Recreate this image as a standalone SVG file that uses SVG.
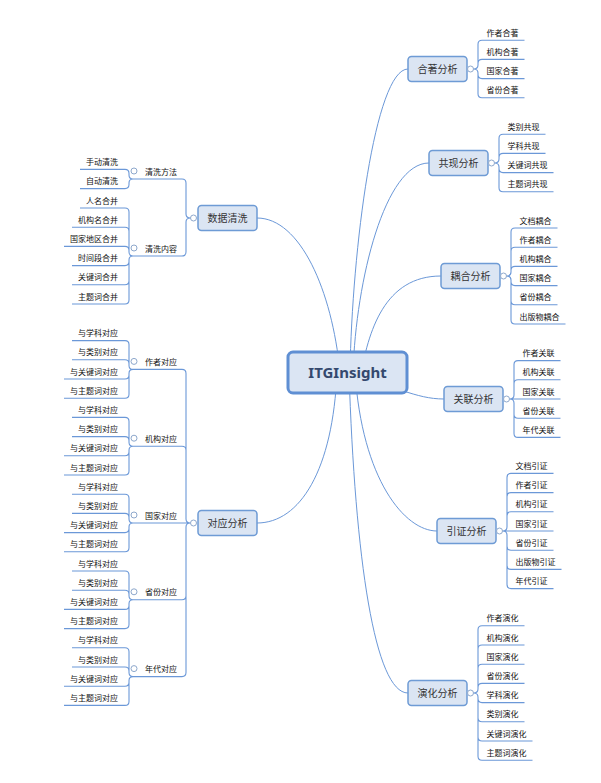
<svg xmlns="http://www.w3.org/2000/svg" width="601" height="783" viewBox="0 0 601 783">
<style>
.bg{fill:#ffffff}
.ln{fill:none;stroke:#6b98d8;stroke-width:1.1}
.cn{fill:none;stroke:#6b98d8;stroke-width:1}
.box{fill:#dbe5f3;stroke:#6e9bd5;stroke-width:1.5}
.root{fill:#dbe5f3;stroke:#5f8fd3;stroke-width:3}
.rt{font-family:"Noto Sans","Noto Sans CJK SC",sans-serif;font-weight:bold;font-size:15px;fill:#34496e;text-anchor:middle}
.mt{font-family:"Noto Sans CJK SC","Noto Sans",sans-serif;font-size:10px;fill:#333333;text-anchor:middle}
.ct{font-family:"Noto Sans CJK SC","Noto Sans",sans-serif;font-size:8px;fill:#111111}
.e{text-anchor:end}
.cc{fill:#ffffff;stroke:#8ea8cc;stroke-width:1}
</style>
<rect class="bg" x="0" y="0" width="601" height="783"/>
<g id="connectors">
<path class="cn" d="M340 372 C332 290 300 218 257 218"/>
<path class="cn" d="M337 372 C333 470 300 523 257 523"/>
<path class="cn" d="M350 372 C352 250 375 69 408 69"/>
<path class="cn" d="M353 372 C356 280 385 163 429 163"/>
<path class="cn" d="M360 380 C368 330 385 276 441 276"/>
<path class="cn" d="M347 375 C395 385 415 399 444 399"/>
<path class="cn" d="M355 372 C362 480 405 531 437 531"/>
<path class="cn" d="M349 372 C355 560 375 693 408 693"/>
<!-- 合著 -->
<path class="ln" d="M473.5 69 Q478 69 478 65 V44.2 Q478 40.2 482 40.2 H524.5 M473.5 69 Q478 69 478 65 V63.4 Q478 59.4 482 59.4 H524.5 M473.5 69 Q478 69 478 73 V74.6 Q478 78.6 482 78.6 H524.5 M473.5 69 Q478 69 478 73 V93.8 Q478 97.8 482 97.8 H524.5"/>
<!-- 共现 -->
<path class="ln" d="M494.5 163 Q499 163 499 159 V138.2 Q499 134.2 503 134.2 H545.5 M494.5 163 Q499 163 499 159 V157.4 Q499 153.4 503 153.4 H545.5 M494.5 163 Q499 163 499 167 V168.6 Q499 172.6 503 172.6 H553.5 M494.5 163 Q499 163 499 167 V187.8 Q499 191.8 503 191.8 H553.5"/>
<!-- 耦合 -->
<path class="ln" d="M506.5 276 Q511 276 511 272 V232 Q511 228 515 228 H557.5 M506.5 276 Q511 276 511 272 V251.2 Q511 247.2 515 247.2 H557.5 M506.5 276 Q511 276 511 272 V270.4 Q511 266.4 515 266.4 H557.5 M506.5 276 Q511 276 511 280 V281.6 Q511 285.6 515 285.6 H557.5 M506.5 276 Q511 276 511 280 V300.8 Q511 304.8 515 304.8 H557.5 M506.5 276 Q511 276 511 280 V320 Q511 324 515 324 H565.5"/>
<!-- 关联 -->
<path class="ln" d="M509.5 399 Q514 399 514 395 V364.6 Q514 360.6 518 360.6 H560.5 M509.5 399 Q514 399 514 395 V383.8 Q514 379.8 518 379.8 H560.5 M509.5 399 H560.5 M509.5 399 Q514 399 514 403 V414.2 Q514 418.2 518 418.2 H560.5 M509.5 399 Q514 399 514 403 V433.4 Q514 437.4 518 437.4 H560.5"/>
<!-- 引证 -->
<path class="ln" d="M502.5 531 Q507 531 507 527 V477.4 Q507 473.4 511 473.4 H553.5 M502.5 531 Q507 531 507 527 V496.6 Q507 492.6 511 492.6 H553.5 M502.5 531 Q507 531 507 527 V515.8 Q507 511.8 511 511.8 H553.5 M502.5 531 H553.5 M502.5 531 Q507 531 507 535 V546.2 Q507 550.2 511 550.2 H553.5 M502.5 531 Q507 531 507 535 V565.4 Q507 569.4 511 569.4 H561.5 M502.5 531 Q507 531 507 535 V584.6 Q507 588.6 511 588.6 H553.5"/>
<!-- 演化 -->
<path class="ln" d="M473.5 693 Q478 693 478 689 V629.8 Q478 625.8 482 625.8 H524.5 M473.5 693 Q478 693 478 689 V649 Q478 645 482 645 H524.5 M473.5 693 Q478 693 478 689 V668.2 Q478 664.2 482 664.2 H524.5 M473.5 693 Q478 693 478 689 V687.4 Q478 683.4 482 683.4 H524.5 M473.5 693 Q478 693 478 697 V698.6 Q478 702.6 482 702.6 H524.5 M473.5 693 Q478 693 478 697 V717.8 Q478 721.8 482 721.8 H524.5 M473.5 693 Q478 693 478 697 V737 Q478 741 482 741 H532.5 M473.5 693 Q478 693 478 697 V756.2 Q478 760.2 482 760.2 H532.5"/>
<!-- 数据清洗 -->
<path class="ln" d="M190.5 218 Q186 218 186 214 V183 Q186 179 182 179 H139 M190.5 218 Q186 218 186 222 V252 Q186 256 182 256 H139"/>
<path class="ln" d="M139 179 H133 Q129 179 129 175 V173.4 Q129 169.4 125 169.4 H80 M139 179 H133 Q129 179 129 183 V184.6 Q129 188.6 125 188.6 H80"/>
<path class="ln" d="M139 256 H133 Q129 256 129 252 V212 Q129 208 125 208 H80 M139 256 H133 Q129 256 129 252 V231.2 Q129 227.2 125 227.2 H72 M139 256 H133 Q129 256 129 252 V250.4 Q129 246.4 125 246.4 H64 M139 256 H133 Q129 256 129 260 V261.6 Q129 265.6 125 265.6 H72 M139 256 H133 Q129 256 129 260 V280.8 Q129 284.8 125 284.8 H72 M139 256 H133 Q129 256 129 260 V300 Q129 304 125 304 H72"/>
<!-- 对应分析 -->
<path class="ln" d="M190.5 523 Q186 523 186 519 V373.4 Q186 369.4 182 369.4 H139 M190.5 523 Q186 523 186 519 V450.2 Q186 446.2 182 446.2 H139 M190.5 523 H139 M190.5 523 Q186 523 186 527 V595.8 Q186 599.8 182 599.8 H139 M190.5 523 Q186 523 186 527 V672.6 Q186 676.6 182 676.6 H139"/>
<path class="ln" d="M139 369.4 H133 Q129 369.4 129 365.4 V344.6 Q129 340.6 125 340.6 H72 M139 369.4 H133 Q129 369.4 129 365.4 V363.8 Q129 359.8 125 359.8 H72 M139 369.4 H133 Q129 369.4 129 373.4 V375 Q129 379 125 379 H64 M139 369.4 H133 Q129 369.4 129 373.4 V394.2 Q129 398.2 125 398.2 H64"/>
<path class="ln" d="M139 446.2 H133 Q129 446.2 129 442.2 V421.4 Q129 417.4 125 417.4 H72 M139 446.2 H133 Q129 446.2 129 442.2 V440.6 Q129 436.6 125 436.6 H72 M139 446.2 H133 Q129 446.2 129 450.2 V451.8 Q129 455.8 125 455.8 H64 M139 446.2 H133 Q129 446.2 129 450.2 V471 Q129 475 125 475 H64"/>
<path class="ln" d="M139 523 H133 Q129 523 129 519 V498.2 Q129 494.2 125 494.2 H72 M139 523 H133 Q129 523 129 519 V517.4 Q129 513.4 125 513.4 H72 M139 523 H133 Q129 523 129 527 V528.6 Q129 532.6 125 532.6 H64 M139 523 H133 Q129 523 129 527 V547.8 Q129 551.8 125 551.8 H64"/>
<path class="ln" d="M139 599.8 H133 Q129 599.8 129 595.8 V575 Q129 571 125 571 H72 M139 599.8 H133 Q129 599.8 129 595.8 V594.2 Q129 590.2 125 590.2 H72 M139 599.8 H133 Q129 599.8 129 603.8 V605.4 Q129 609.4 125 609.4 H64 M139 599.8 H133 Q129 599.8 129 603.8 V624.6 Q129 628.6 125 628.6 H64"/>
<path class="ln" d="M139 676.6 H133 Q129 676.6 129 672.6 V651.8 Q129 647.8 125 647.8 H72 M139 676.6 H133 Q129 676.6 129 672.6 V671 Q129 667 125 667 H72 M139 676.6 H133 Q129 676.6 129 680.6 V682.2 Q129 686.2 125 686.2 H64 M139 676.6 H133 Q129 676.6 129 680.6 V701.4 Q129 705.4 125 705.4 H64"/>
</g>
<g id="root">
<rect class="root" x="288" y="352" width="119" height="41" rx="5"/>
<text class="rt" x="347.5" y="378">ITGInsight</text>
</g>
<g id="hezhu">
<rect class="box" x="408" y="56.5" width="59" height="25" rx="3.5"/>
<text class="mt" x="437.5" y="72.5">合著分析</text>
<circle class="cc" cx="470.5" cy="69" r="3"/>
<text class="ct" x="486.5" y="35.7">作者合著</text>
<text class="ct" x="486.5" y="54.9">机构合著</text>
<text class="ct" x="486.5" y="74.1">国家合著</text>
<text class="ct" x="486.5" y="93.3">省份合著</text>
</g>
<g id="gongxian">
<rect class="box" x="429" y="150.5" width="59" height="25" rx="3.5"/>
<text class="mt" x="458.5" y="166.5">共现分析</text>
<circle class="cc" cx="491.5" cy="163" r="3"/>
<text class="ct" x="507.5" y="129.7">类别共现</text>
<text class="ct" x="507.5" y="148.9">学科共现</text>
<text class="ct" x="507.5" y="168.1">关键词共现</text>
<text class="ct" x="507.5" y="187.3">主题词共现</text>
</g>
<g id="ouhe">
<rect class="box" x="441" y="263.5" width="59" height="25" rx="3.5"/>
<text class="mt" x="470.5" y="279.5">耦合分析</text>
<circle class="cc" cx="503.5" cy="276" r="3"/>
<text class="ct" x="519.5" y="223.5">文档耦合</text>
<text class="ct" x="519.5" y="242.7">作者耦合</text>
<text class="ct" x="519.5" y="261.9">机构耦合</text>
<text class="ct" x="519.5" y="281.1">国家耦合</text>
<text class="ct" x="519.5" y="300.3">省份耦合</text>
<text class="ct" x="519.5" y="319.5">出版物耦合</text>
</g>
<g id="guanlian">
<rect class="box" x="444" y="386.5" width="59" height="25" rx="3.5"/>
<text class="mt" x="473.5" y="402.5">关联分析</text>
<circle class="cc" cx="506.5" cy="399" r="3"/>
<text class="ct" x="522.5" y="356.1">作者关联</text>
<text class="ct" x="522.5" y="375.3">机构关联</text>
<text class="ct" x="522.5" y="394.5">国家关联</text>
<text class="ct" x="522.5" y="413.7">省份关联</text>
<text class="ct" x="522.5" y="432.9">年代关联</text>
</g>
<g id="yinzheng">
<rect class="box" x="437" y="518.5" width="59" height="25" rx="3.5"/>
<text class="mt" x="466.5" y="534.5">引证分析</text>
<circle class="cc" cx="499.5" cy="531" r="3"/>
<text class="ct" x="515.5" y="468.9">文档引证</text>
<text class="ct" x="515.5" y="488.1">作者引证</text>
<text class="ct" x="515.5" y="507.3">机构引证</text>
<text class="ct" x="515.5" y="526.5">国家引证</text>
<text class="ct" x="515.5" y="545.7">省份引证</text>
<text class="ct" x="515.5" y="564.9">出版物引证</text>
<text class="ct" x="515.5" y="584.1">年代引证</text>
</g>
<g id="yanhua">
<rect class="box" x="408" y="680.5" width="59" height="25" rx="3.5"/>
<text class="mt" x="437.5" y="696.5">演化分析</text>
<circle class="cc" cx="470.5" cy="693" r="3"/>
<text class="ct" x="486.5" y="621.3">作者演化</text>
<text class="ct" x="486.5" y="640.5">机构演化</text>
<text class="ct" x="486.5" y="659.7">国家演化</text>
<text class="ct" x="486.5" y="678.9">省份演化</text>
<text class="ct" x="486.5" y="698.1">学科演化</text>
<text class="ct" x="486.5" y="717.3">类别演化</text>
<text class="ct" x="486.5" y="736.5">关键词演化</text>
<text class="ct" x="486.5" y="755.7">主题词演化</text>
</g>
<g id="shujuqingxi">
<rect class="box" x="198" y="205.5" width="59" height="25" rx="3.5"/>
<text class="mt" x="227.5" y="221.5">数据清洗</text>
<circle class="cc" cx="193.5" cy="218" r="3"/>
<g id="qingxifangfa">
<text class="ct" x="145" y="174.5">清洗方法</text>
<circle class="cc" cx="134" cy="171" r="3"/>
<text class="ct e" x="118" y="164.9">手动清洗</text>
<text class="ct e" x="118" y="184.1">自动清洗</text>
</g>
<g id="qingxineirong">
<text class="ct" x="145" y="251.5">清洗内容</text>
<circle class="cc" cx="134" cy="248" r="3"/>
<text class="ct e" x="118" y="203.5">人名合并</text>
<text class="ct e" x="118" y="222.7">机构名合并</text>
<text class="ct e" x="118" y="241.9">国家地区合并</text>
<text class="ct e" x="118" y="261.1">时间段合并</text>
<text class="ct e" x="118" y="280.3">关键词合并</text>
<text class="ct e" x="118" y="299.5">主题词合并</text>
</g>
</g>
<g id="duiying">
<rect class="box" x="198" y="510.5" width="59" height="25" rx="3.5"/>
<text class="mt" x="227.5" y="526.5">对应分析</text>
<circle class="cc" cx="193.5" cy="523" r="3"/>
<g id="zuozheduiying">
<text class="ct" x="145" y="364.9">作者对应</text>
<circle class="cc" cx="134" cy="361.4" r="3"/>
<text class="ct e" x="118" y="336.1">与学科对应</text>
<text class="ct e" x="118" y="355.3">与类别对应</text>
<text class="ct e" x="118" y="374.5">与关键词对应</text>
<text class="ct e" x="118" y="393.7">与主题词对应</text>
</g>
<g id="jigouduiying">
<text class="ct" x="145" y="441.7">机构对应</text>
<circle class="cc" cx="134" cy="438.2" r="3"/>
<text class="ct e" x="118" y="412.9">与学科对应</text>
<text class="ct e" x="118" y="432.1">与类别对应</text>
<text class="ct e" x="118" y="451.3">与关键词对应</text>
<text class="ct e" x="118" y="470.5">与主题词对应</text>
</g>
<g id="guojiaduiying">
<text class="ct" x="145" y="518.5">国家对应</text>
<circle class="cc" cx="134" cy="515" r="3"/>
<text class="ct e" x="118" y="489.7">与学科对应</text>
<text class="ct e" x="118" y="508.9">与类别对应</text>
<text class="ct e" x="118" y="528.1">与关键词对应</text>
<text class="ct e" x="118" y="547.3">与主题词对应</text>
</g>
<g id="shengfenduiying">
<text class="ct" x="145" y="595.3">省份对应</text>
<circle class="cc" cx="134" cy="591.8" r="3"/>
<text class="ct e" x="118" y="566.5">与学科对应</text>
<text class="ct e" x="118" y="585.7">与类别对应</text>
<text class="ct e" x="118" y="604.9">与关键词对应</text>
<text class="ct e" x="118" y="624.1">与主题词对应</text>
</g>
<g id="niandaiduiying">
<text class="ct" x="145" y="672.1">年代对应</text>
<circle class="cc" cx="134" cy="668.6" r="3"/>
<text class="ct e" x="118" y="643.3">与学科对应</text>
<text class="ct e" x="118" y="662.5">与类别对应</text>
<text class="ct e" x="118" y="681.7">与关键词对应</text>
<text class="ct e" x="118" y="700.9">与主题词对应</text>
</g>
</g>
</svg>
